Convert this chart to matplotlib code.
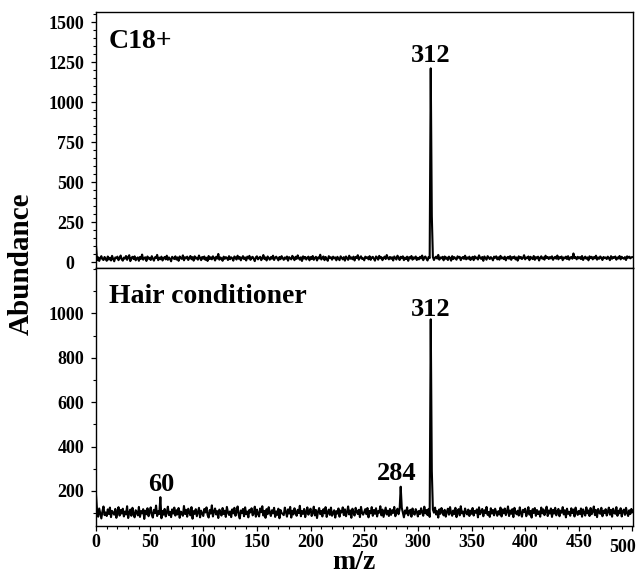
import numpy as np
import matplotlib
matplotlib.use('Agg')
import matplotlib.pyplot as plt
from matplotlib.ticker import MultipleLocator

# ---------------- data ----------------
mz = list(range(0, 501))

# baseline noise, C18+ panel (one value per m/z unit, 0..500)
top_noise = [
    24,12,31,8,27,38,19,14,33,22,9,36,17,28,11,40,21,6,30,25,35,13,26,42,18,
    10,29,23,39,15,32,44,7,26,34,20,37,12,25,30,9,33,21,48,16,27,31,8,36,22,
    28,14,38,23,10,31,26,46,13,29,19,35,11,24,33,18,41,15,30,22,6,34,27,20,37,
    17,30,9,36,25,21,43,12,31,24,35,14,28,39,19,32,10,37,23,29,16,42,26,13,33,
    22,36,15,28,8,39,20,31,18,37,26,11,34,23,52,16,30,24,9,35,21,32,27,14,38,
    19,31,25,10,36,28,17,41,22,33,12,27,38,20,30,11,35,24,40,15,29,34,21,7,31,
    37,18,28,34,13,25,45,20,30,11,36,26,16,32,22,41,14,29,35,24,12,33,19,38,26,
    15,30,22,36,10,32,25,18,40,28,13,34,21,43,26,16,31,8,37,23,33,17,29,35,12,
    32,20,39,15,27,34,11,30,24,47,17,28,36,13,33,22,9,38,26,31,16,35,24,30,12,
    34,24,13,37,28,18,32,10,36,26,15,41,22,30,19,35,11,33,27,44,16,29,37,21,25,
    12,35,26,31,18,38,15,29,34,22,10,36,30,16,40,25,32,13,27,35,20,45,28,18,33,
    22,31,11,36,27,17,41,30,14,34,25,37,13,29,20,35,9,32,24,39,16,30,23,36,14,
    28,18,34,24,42,13,30,36,22,11,33,26,38,17,32,14,29,35,23,46,16,30,25,34,12,
    36,22,30,14,35,26,10,38,20,32,24,16,37,28,34,13,27,33,21,41,18,30,22,35,14,
    26,34,13,37,24,30,17,43,28,21,33,9,36,26,16,38,30,20,32,24,12,35,28,37,18,
    31,16,40,24,30,20,35,12,28,34,22,38,15,32,26,36,18,30,10,37,24,33,20,28,44,
    18,30,25,36,13,34,26,20,39,15,32,24,35,11,28,37,22,30,16,41,26,33,20,32,24,
    37,15,28,34,22,42,18,32,26,36,13,30,24,35,20,38,16,29,33,22,55,26,32,18,34,
    24,32,20,39,14,28,35,22,30,12,37,26,34,18,32,24,41,16,30,22,36,28,14,33,26,
    30,20,35,26,13,38,22,32,28,36,16,30,24,39,18,34,26,22,32,14,37,28,35,24,31,
    32,
]

# baseline noise, Hair conditioner panel
bot_noise = [
    95,112,84,121,99,76,108,130,91,103,87,117,96,125,82,110,101,93,119,79,106,127,89,114,98,
    120,85,107,94,131,78,102,116,88,124,97,81,113,105,90,128,83,109,99,118,74,111,95,122,86,
    104,126,92,80,115,100,134,87,108,96,121,77,110,93,119,85,103,129,91,106,82,117,98,125,89,
    113,94,123,79,107,101,88,132,96,115,84,120,102,90,127,75,109,97,118,86,105,124,81,111,99,
    87,119,103,126,92,80,114,98,135,85,106,121,94,109,78,116,101,89,123,96,111,83,128,104,92,
    108,82,117,99,124,88,105,130,93,76,112,100,119,86,126,95,107,81,115,103,122,90,98,129,84,
    116,97,85,121,104,131,89,110,79,118,95,127,102,87,113,99,124,83,108,92,120,77,114,101,96,
    91,125,106,84,117,98,128,80,111,94,122,103,88,115,100,133,86,109,97,119,82,106,126,93,112,
    120,87,102,129,90,114,78,107,123,95,110,85,118,99,127,83,104,116,92,125,88,101,113,80,109,
    98,121,84,111,103,126,91,117,86,105,130,94,112,79,120,100,89,124,107,96,115,82,128,102,93,
    106,118,95,123,81,110,99,127,88,114,97,122,85,109,102,131,90,116,83,104,125,94,111,87,119,
    92,113,101,128,86,107,120,95,117,89,124,103,81,112,98,126,90,108,115,84,121,100,93,118,106,
    85,110,96,122,104,88,129,99,114,91,119,83,105,87,116,102,125,94,109,80,117,97,123,108,90,
    115,84,106,120,93,127,101,88,112,96,124,82,109,118,90,131,99,107,85,121,103,94,116,87,111,
    97,123,89,110,102,117,81,126,95,108,119,86,113,100,128,92,105,83,122,98,114,90,120,104,88,
    109,94,125,85,116,99,121,91,107,130,87,112,97,118,82,124,103,95,111,89,126,100,84,115,106,
    120,86,103,127,93,110,80,118,101,123,88,114,96,108,84,125,99,117,91,105,129,87,112,98,121,
    83,115,98,124,90,107,119,86,111,102,127,94,113,81,120,97,106,88,122,100,116,85,125,104,92,
    110,96,121,84,117,101,89,126,99,112,87,123,95,108,130,91,114,82,119,103,97,124,86,111,100,
    118,89,106,125,93,115,84,120,102,97,127,88,111,99,122,85,109,116,92,124,101,87,113,96,119,
    104,
]

# peaks
top_peak_mz = [0, 312, 313]
top_peak_int = [104, 1212, 289]
bot_peak_mz = [0, 60, 284, 312, 313]
bot_peak_int = [185, 172, 219, 973, 290]

# peak labels
top_labels = [("312", 312, 1254)]
bot_labels = [("312", 312, 988), ("284", 280, 250), ("60", 61, 200)]

top_yticks = [0, 250, 500, 750, 1000, 1250, 1500]
bot_yticks = [200, 400, 600, 800, 1000]
xticks = [0, 50, 100, 150, 200, 250, 300, 350, 400, 450, 500]

# ---------------- plot ----------------
plt.rcParams['font.family'] = ['Liberation Serif', 'DejaVu Serif']
plt.rcParams['font.weight'] = 'bold'

fig = plt.figure(figsize=(6.39, 5.75), dpi=100)
ax1 = fig.add_axes([0.1502, 0.5339, 0.8404, 0.4452])
ax2 = fig.add_axes([0.1502, 0.0852, 0.8404, 0.4487])

top = np.array(top_noise, dtype=float)
top[top_peak_mz] = top_peak_int
bot = np.array(bot_noise, dtype=float)
bot[bot_peak_mz] = bot_peak_int

ax1.plot(mz, top, color='black', lw=1.5)
ax2.plot(mz, bot, color='black', lw=1.5)

for ax in (ax1, ax2):
    ax.set_xlim(0, 500.5)
    for s in ax.spines.values():
        s.set_linewidth(1.0)
    ax.tick_params(which='major', direction='out', length=3.6, width=0.9,
                   labelsize=13)
    ax.tick_params(which='minor', direction='out', length=2.4, width=0.8)
    ax.tick_params(axis='y', which='major', pad=5)
    ax.tick_params(axis='x', which='major', pad=2.5)

ax1.set_ylim(-36, 1564)
ax1.set_yticks(top_yticks, labels=[''] + [str(v) for v in top_yticks[1:]])
ax1.annotate(str(top_yticks[0]), xy=(0, top_yticks[0]), xycoords=('axes fraction', 'data'),
             xytext=(-15.8, 0), textcoords='offset points',
             ha='right', va='center_baseline', fontsize=13, fontweight='bold')
ax1.yaxis.set_minor_locator(MultipleLocator(50))
ax1.tick_params(axis='x', which='both', bottom=False, labelbottom=False)

ax2.set_ylim(42, 1204)
ax2.set_yticks(bot_yticks)
ax2.yaxis.set_minor_locator(MultipleLocator(100))
ax2.set_xticks(xticks, labels=[str(v) for v in xticks[:-1]] + [''])
ax2.xaxis.set_minor_locator(MultipleLocator(10))
ax2.annotate(str(xticks[-1]), xy=(xticks[-1], 0), xycoords=('data', 'axes fraction'),
             xytext=(-7, -9), textcoords='offset points',
             ha='center', va='top', fontsize=13, fontweight='bold')

for t, x, y in top_labels:
    ax1.text(x, y, t, ha='center', va='baseline', fontsize=19, fontweight='bold')
for t, x, y in bot_labels:
    ax2.text(x, y, t, ha='center', va='baseline', fontsize=19, fontweight='bold')

ax1.text(0.024, 0.858, "C18+", transform=ax1.transAxes, ha='left', va='baseline',
         fontsize=20, fontweight='bold')
ax2.text(0.024, 0.866, "Hair conditioner", transform=ax2.transAxes, ha='left',
         va='baseline', fontsize=20, fontweight='bold')

fig.text(21 / 639, 1 - 264 / 575, "Abundance", rotation=90, ha='center', va='center',
         fontsize=21, fontweight='bold')
fig.text(354 / 639, 6 / 575, "m/z", ha='center', va='baseline',
         fontsize=20, fontweight='bold')

fig.savefig('out.png', dpi=100)
